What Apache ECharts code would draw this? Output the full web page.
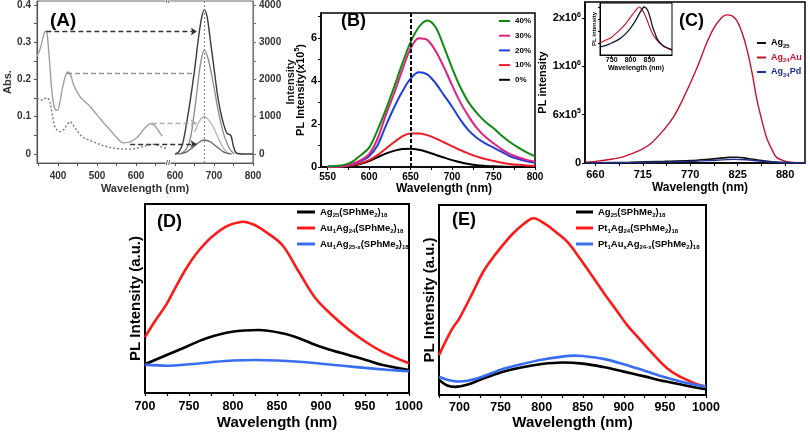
<!DOCTYPE html>
<html><head><meta charset="utf-8">
<script src="https://cdn.jsdelivr.net/npm/echarts@6/dist/echarts.min.js"></script>
<style>html,body{margin:0;padding:0;background:#fff}#c{width:810px;height:433px}</style>
</head><body><div id="c"></div>
<script>
// ================= DATA =================
// ---- Panel A : absorbance (left part, wavelength nm) ----
const absSolidWl  = [346,355,362,368,372,378,385,392,398,405,412,420,427,433,440,456,478,500,520,533,550,567,580,601,615,626,637,645,652,660,667];
const absSolidVal = [0.262,0.285,0.315,0.33,0.322,0.25,0.16,0.12,0.117,0.14,0.18,0.212,0.22,0.21,0.185,0.154,0.132,0.105,0.08,0.065,0.045,0.03,0.031,0.043,0.06,0.073,0.081,0.079,0.07,0.058,0.048];
const absDotWl  = [346,355,362,367,371,379,386,392,398,405,414,423,431,437,444,452,461,480,499,520,550,584,619,645,662,677];
const absDotVal = [0.15,0.146,0.145,0.15,0.151,0.14,0.1,0.073,0.064,0.06,0.065,0.078,0.087,0.08,0.069,0.058,0.047,0.037,0.029,0.021,0.015,0.013,0.02,0.026,0.02,0.015];
// ---- Panel A : emission (right part, wavelength nm, intensity) ----
const emDarkWl  = [600,610,620,630,640,650,660,668,675,682,690,700,711,722,733,743,750,758,775,800];
const emDarkVal = [0,60,300,850,1500,2250,3100,3650,3870,3700,3100,2300,1450,900,560,500,200,20,0,0];
const emMidWl   = [615,630,640,648,656,665,675,685,698,711,724,735,742,752];
const emMidVal  = [0,150,450,1000,1650,2400,2790,2550,1900,1150,560,250,110,0];
const emLightWl  = [651,660,668,675,685,698,711,724,735,742];
const emLightVal = [590,830,960,1000,930,730,420,160,30,0];
const emLowWl  = [600,615,630,647,660,675,690,698,711,724,735,745];
const emLowVal = [0,10,55,190,300,375,330,270,160,55,15,0];
// arrows: from absorbance peak (left wl, abs) to emission side (right wl)
const arrowFromWl = [370, 423, 640, 585];
const arrowAbs    = [0.329, 0.218, 0.083, 0.027];
const arrowToWl   = [656, 652, 655, 655];
const emPeakWlA = 675;
const aLeftTicks  = [0, 0.1, 0.2, 0.3, 0.4];
const aRightTicks = [0, 1000, 2000, 3000, 4000];
const aLeftWlTicks  = [400, 500, 600];
const aRightWlTicks = [600, 700, 800];

// ---- Panel B ----
const bWl = [550,560,570,580,590,600,610,620,630,640,650,660,670,680,690,700,710,720,730,740,750,760,770,780,790,800];
const b40 = [0.03,0.05,0.1,0.25,0.55,0.9,1.7,2.65,3.7,4.8,5.8,6.5,6.8,6.5,5.6,4.6,3.7,3.0,2.5,2.1,1.8,1.45,1.15,0.9,0.68,0.5];
const b30 = [0,0.02,0.05,0.15,0.32,0.6,1.3,2.4,3.4,4.5,5.5,5.98,5.9,5.4,4.65,3.8,3.0,2.35,1.8,1.4,1.1,0.82,0.6,0.45,0.33,0.25];
const b20 = [0,0.02,0.05,0.12,0.28,0.5,1.0,1.9,2.75,3.5,4.1,4.4,4.3,3.9,3.35,2.8,2.2,1.7,1.35,1.1,0.9,0.7,0.5,0.37,0.27,0.2];
const b10 = [0,0.01,0.03,0.08,0.18,0.32,0.55,0.85,1.15,1.42,1.56,1.56,1.48,1.33,1.15,0.97,0.78,0.62,0.48,0.37,0.28,0.2,0.14,0.1,0.07,0.05];
const b0  = [0,0.01,0.02,0.06,0.15,0.28,0.45,0.62,0.75,0.84,0.85,0.8,0.7,0.57,0.44,0.32,0.22,0.14,0.08,0.05,0.03,0.02,0.01,0.01,0,0];
const bNames = ['40%','30%','20%','10%','0%'];
const bMarkWl = 650;
const bXTicks = [550,600,650,700,750,800];
const bYTicks = [0,2,4,6];

// ---- Panel C ----
const cRedWl  = [648,660,680,693,710,724,740,751,760,770,780,789,797,805,812,818,824,830,836,842,847,853,859,865,870,878,886,903];
const cRedVal = [0.01,0.02,0.05,0.08,0.15,0.24,0.42,0.58,0.76,0.99,1.24,1.49,1.67,1.79,1.84,1.83,1.77,1.62,1.40,1.10,0.80,0.53,0.30,0.16,0.07,0.03,0.01,0].map(v=>v*1e6);
const cBlkWl  = [648,660,700,740,770,790,805,815,824,835,850,865,880,903];
const cBlkVal = [0,0.003,0.01,0.02,0.03,0.045,0.06,0.07,0.072,0.06,0.035,0.015,0.005,0].map(v=>v*1e6);
const cBluWl  = [648,700,770,800,820,835,850,870,903];
const cBluVal = [0,0.005,0.02,0.035,0.045,0.04,0.025,0.01,0].map(v=>v*1e6);
const cXTicks = [660,715,770,825,880];
const cYTickVals = [0, 6e5, 1.2e6, 1.8e6];
const cYTickLabels = ['0','6x10^5','1x10^6','2x10^6'];
// inset
const insRedWl  = [719,735,750,763,775,788,800,810,817,823,831,840,850,858,871,885,898,910];
const insRedVal = [0.25,0.31,0.37,0.46,0.55,0.66,0.79,0.89,0.96,1.0,0.94,0.8,0.6,0.45,0.3,0.2,0.15,0.12];
const insBlkWl  = [719,735,750,763,775,788,800,812,822,830,836,842,847,853,858,865,871,885,898,910];
const insBlkVal = [0.17,0.2,0.25,0.3,0.36,0.45,0.56,0.7,0.84,0.95,1.0,0.97,0.9,0.75,0.6,0.45,0.33,0.2,0.14,0.1];
const insXTicks = [750,800,850];

// ---- Panel D ----
const dRedWl  = [700,712,724,736,747,758,770,781,792,800,811,824,837,856,875,894,913,932,951,970,1000];
const dRedVal = [29.6,38.5,46.6,57,66,73.5,80,84.5,88,89.5,90.6,89,85.3,78.3,64,50,41,33.3,27,21.8,15.7];
const dBlkWl  = [700,724,747,770,799,829,856,875,894,913,932,951,970,1000];
const dBlkVal = [15.2,20,24.5,29,32.4,33.3,31.6,29,25.4,22.5,20,17.5,14.8,12.2];
const dBluWl  = [700,725,750,775,800,825,850,875,900,925,950,975,1000];
const dBluVal = [15,14.4,15.2,16.3,17.2,17.5,17.2,16.5,15.5,14.4,13.3,12.3,11.5];
const dXTicks = [700,750,800,850,900,950,1000];

// ---- Panel E ----
const eRedWl  = [675,690,700,715,729,741,753,765,778,790,806,818,831,843,855,868,880,892,904,917,929,941,953,965,977,990,1000];
const eRedVal = [21,34,40.5,53,65,72.5,79,85,90,93,89.5,85.5,80.7,74,66.7,58.5,51,44,36.8,30.5,24.6,19,14,10.5,7.9,5.5,4.4];
const eBlkWl  = [675,685,695,710,725,750,775,800,825,850,875,900,925,950,975,1000];
const eBlkVal = [8,5,4.3,5.5,8,11.9,14.5,16.3,17.1,16.5,14.7,12.3,9.8,7.2,5,3];
const eBluWl  = [675,685,698,710,725,750,775,800,825,840,850,875,900,925,950,975,1000];
const eBluVal = [9.6,8,7.1,7.5,9.2,13.3,16.2,18.6,20.2,20.7,20.5,19,16.2,12.8,9.3,6.5,4.4];
const eXTicks = [700,750,800,850,900,950,1000];

const nAg25   = 'Ag_{25}(SPhMe_{2})_{18}';
const nAuAg24 = 'Au_{1}Ag_{24}(SPhMe_{2})_{18}';
const nAuAg25x= 'Au_{1}Ag_{25-x}(SPhMe_{2})_{18}';
const nPtAg24 = 'Pt_{1}Ag_{24}(SPhMe_{2})_{18}';
const nPtAu   = 'Pt_{1}Au_{x}Ag_{24-x}(SPhMe_{2})_{18}';

// ================= LAYOUT / STYLE =================
const FONT = '"Liberation Sans", Arial, sans-serif';
const rightOffset = 100;   // broken-axis offset for panel A right part
const breakU = 682;
const pairs = (xs, ys, off) => xs.map((x, i) => [x + (off || 0), ys[i]]);
const toRich = s => s.replace(/_\{([^}]*)\}/g, '{sub|$1}').replace(/\^\{?([0-9]+)\}?/g, '{sup|$1}');
const plain = v => String(v);
function richSet(sz) {
  return {
    sub: {fontSize: sz, lineHeight: sz + 1, verticalAlign: 'bottom', fontWeight: 'bold', fontFamily: FONT},
    sup: {fontSize: sz, lineHeight: sz + 1, verticalAlign: 'top', fontWeight: 'bold', fontFamily: FONT}
  };
}
function ts(size, color, extra) {
  return Object.assign({fontFamily: FONT, fontWeight: 'bold', fontSize: size, color: color || '#000'}, extra || {});
}
function line(name, xi, yi, data, color, width, extra) {
  return Object.assign({
    type: 'line', name, xAxisIndex: xi, yAxisIndex: yi, data,
    showSymbol: false, symbol: 'none', smooth: 0.35,
    lineStyle: {color, width}, itemStyle: {color}, z: 3
  }, extra || {});
}
function steps(a, b, s) { const r = []; for (let v = a; v <= b + 1e-9; v += s) r.push(+v.toFixed(4)); return r; }

const arrowStyle = [
  {color: '#333', head: true},
  {color: '#999', head: false},
  {color: '#aaa', head: true},
  {color: '#333', head: true}
];
const arrowLines = arrowFromWl.map((w, i) => [
  {coord: [w, arrowAbs[i]], symbol: 'none', lineStyle: {color: arrowStyle[i].color, type: [5, 3], width: 1.3}},
  {coord: [arrowToWl[i] + rightOffset, arrowAbs[i]], symbol: arrowStyle[i].head ? 'arrow' : 'none'}
]);

const aEmColors = ['#3a3a3a', '#8a8a8a', '#b4b4b4', '#666'];
const bColors = ['#0f8a12', '#e0217d', '#1f3fe0', '#ee1c25', '#000'];

const option = {
  animation: false,
  backgroundColor: '#fff',
  textStyle: {fontFamily: FONT},
  title: [
    {text: '(A)', left: 45, top: 6, textStyle: ts(19)},
    {text: '(B)', left: 336, top: 7, textStyle: ts(18)},
    {text: '(C)', left: 674, top: 7, textStyle: ts(18)},
    {text: '(D)', left: 152, top: 208, textStyle: ts(18)},
    {text: '(E)', left: 447, top: 206, textStyle: ts(18)}
  ],
  grid: [
    {left: 37, top: 1, width: 216, height: 162, show: true, borderColor: '#666', borderWidth: 1},
    {left: 321, top: 13, width: 214, height: 154, show: true, borderColor: '#000', borderWidth: 1.5},
    {left: 585, top: 2, width: 220, height: 161, show: true, borderColor: '#000', borderWidth: 1.5},
    {left: 600, top: 3, width: 72, height: 52, show: true, borderColor: '#000', borderWidth: 1, backgroundColor: '#fff'},
    {left: 145, top: 204, width: 264, height: 189, show: true, borderColor: '#000', borderWidth: 2},
    {left: 439, top: 205, width: 267, height: 190, show: true, borderColor: '#000', borderWidth: 2}
  ],
  xAxis: [
    { // A
      gridIndex: 0, type: 'value', min: 346, max: 900,
      axisLine: {show: true, onZero: false, lineStyle: {color: '#555', width: 1.2}},
      splitLine: {show: false},
      axisTick: {show: true, length: 3, customValues: [350,400,450,500,550,600,650,700,750,800,850,900], lineStyle: {color: '#555'}},
      axisLabel: {customValues: aLeftWlTicks.concat(aRightWlTicks.map(v => v + rightOffset)), formatter: v => String(v > breakU ? v - rightOffset : v), margin: 8, ...ts(10, '#333')},
      name: 'Wavelength (nm)', nameLocation: 'middle', nameGap: 20, nameTextStyle: ts(11, '#333')
    },
    { // B
      gridIndex: 1, type: 'value', min: 542, max: 800,
      axisLine: {show: true, onZero: false, lineStyle: {color: '#000', width: 1.5}},
      splitLine: {show: false},
      axisTick: {show: true, length: 3, customValues: steps(550, 800, 25), lineStyle: {color: '#000'}},
      axisLabel: {customValues: bXTicks, formatter: plain, margin: 5, ...ts(10)},
      name: 'Wavelength (nm)', nameLocation: 'middle', nameGap: 13, nameTextStyle: ts(12, '#000', {padding: [0, 0, 0, 32]})
    },
    { // C
      gridIndex: 2, type: 'value', min: 648, max: 903,
      axisLine: {show: true, onZero: false, lineStyle: {color: '#000', width: 1.5}},
      splitLine: {show: false},
      axisTick: {show: true, length: 3, customValues: steps(660, 880, 27.5), lineStyle: {color: '#000'}},
      axisLabel: {customValues: cXTicks, formatter: plain, margin: 6, ...ts(11)},
      name: 'Wavelength (nm)', nameLocation: 'middle', nameGap: 19, nameTextStyle: ts(12, '#000', {padding: [0, 0, 0, 10]})
    },
    { // C inset
      gridIndex: 3, type: 'value', min: 719, max: 910,
      axisLine: {show: true, onZero: false, lineStyle: {color: '#000', width: 1}},
      splitLine: {show: false},
      axisTick: {show: true, length: 2, customValues: insXTicks, lineStyle: {color: '#000'}},
      axisLabel: {customValues: insXTicks, formatter: plain, margin: 2, ...ts(7)},
      name: 'Wavelength (nm)', nameLocation: 'middle', nameGap: 9, nameTextStyle: ts(7)
    },
    { // D
      gridIndex: 4, type: 'value', min: 700, max: 1000,
      axisLine: {show: true, onZero: false, lineStyle: {color: '#000', width: 2}},
      splitLine: {show: false},
      axisTick: {show: true, length: 3, customValues: steps(700, 1000, 25), lineStyle: {color: '#000', width: 1.2}},
      axisLabel: {customValues: dXTicks, formatter: plain, margin: 7, ...ts(12.5)},
      name: 'Wavelength (nm)', nameLocation: 'middle', nameGap: 22, nameTextStyle: ts(15)
    },
    { // E
      gridIndex: 5, type: 'value', min: 675, max: 1000,
      axisLine: {show: true, onZero: false, lineStyle: {color: '#000', width: 2}},
      splitLine: {show: false},
      axisTick: {show: true, length: 3, customValues: steps(675, 1000, 25), lineStyle: {color: '#000', width: 1.2}},
      axisLabel: {customValues: eXTicks, formatter: plain, margin: 6, ...ts(12.5)},
      name: 'Wavelength (nm)', nameLocation: 'middle', nameGap: 20, nameTextStyle: ts(15)
    }
  ],
  yAxis: [
    { // A left
      gridIndex: 0, type: 'value', min: -0.0242, max: 0.4107,
      axisLine: {show: true, lineStyle: {color: '#555', width: 1.2}},
      splitLine: {show: false},
      axisTick: {show: true, length: 3, customValues: steps(0, 0.4, 0.05), lineStyle: {color: '#555'}},
      axisLabel: {customValues: aLeftTicks, formatter: v => v === 0 ? '0' : v.toFixed(1), margin: 6, ...ts(10, '#333')},
      name: 'Abs.', nameLocation: 'middle', nameGap: 19, nameRotate: 90, nameTextStyle: ts(11, '#333')
    },
    { // A right
      gridIndex: 0, type: 'value', position: 'right', min: -242, max: 4107,
      axisLine: {show: true, lineStyle: {color: '#777', width: 1.2}},
      splitLine: {show: false},
      axisTick: {show: true, length: 3, customValues: steps(0, 4000, 500), lineStyle: {color: '#777'}},
      axisLabel: {customValues: aRightTicks, formatter: plain, margin: 6, ...ts(10, '#333')},
      name: 'Intensity', nameLocation: 'middle', nameGap: 30, nameRotate: 90, nameTextStyle: ts(11, '#222')
    },
    { // B
      gridIndex: 1, type: 'value', min: 0, max: 7.15,
      axisLine: {show: true, lineStyle: {color: '#000', width: 1.5}},
      splitLine: {show: false},
      axisTick: {show: true, length: 3, customValues: steps(0, 7, 1), lineStyle: {color: '#000'}},
      axisLabel: {customValues: bYTicks, formatter: plain, margin: 4, ...ts(11)},
      name: 'PL Intensity(x10{sup|5})', nameLocation: 'middle', nameGap: 13, nameRotate: 90,
      nameTextStyle: ts(11, '#000', {lineHeight: 13, rich: richSet(7)})
    },
    { // C
      gridIndex: 2, type: 'value', min: 0, max: 2.0e6,
      axisLine: {show: true, lineStyle: {color: '#000', width: 1.5}},
      splitLine: {show: false},
      axisTick: {show: true, length: 3, customValues: cYTickVals, lineStyle: {color: '#000'}},
      axisLabel: {
        customValues: cYTickVals,
        formatter: v => { const i = cYTickVals.findIndex(t => Math.abs(t - v) < 1); return i < 0 ? '' : toRich(cYTickLabels[i]); },
        margin: 4, ...ts(11, '#000', {lineHeight: 14, rich: richSet(7)})
      },
      name: 'PL intensity', nameLocation: 'middle', nameGap: 31, nameRotate: 90, nameTextStyle: ts(11)
    },
    { // C inset
      gridIndex: 3, type: 'value', min: 0, max: 1.083,
      axisLine: {show: true, lineStyle: {color: '#000', width: 1}},
      splitLine: {show: false},
      axisTick: {show: true, length: 2, customValues: [0.25, 0.5, 0.75, 1.0], lineStyle: {color: '#000'}},
      axisLabel: {show: false},
      name: 'PL intensity', nameLocation: 'middle', nameGap: 3, nameRotate: 90, nameTextStyle: ts(6)
    },
    { // D
      gridIndex: 4, type: 'value', min: 0, max: 100,
      axisLine: {show: true, lineStyle: {color: '#000', width: 2}},
      splitLine: {show: false}, axisTick: {show: false}, axisLabel: {show: false},
      name: 'PL Intensity (a.u.)', nameLocation: 'middle', nameGap: 2, nameRotate: 90, nameTextStyle: ts(15)
    },
    { // E
      gridIndex: 5, type: 'value', min: 0, max: 100,
      axisLine: {show: true, lineStyle: {color: '#000', width: 2}},
      splitLine: {show: false}, axisTick: {show: false}, axisLabel: {show: false},
      name: 'PL Intensity (a.u.)', nameLocation: 'middle', nameGap: 2, nameRotate: 90, nameTextStyle: ts(15)
    }
  ],
  legend: [
    { // B
      orient: 'vertical', left: 494, top: 11, itemWidth: 11, itemHeight: 2, itemGap: 4.7, icon: 'rect',
      data: bNames, textStyle: ts(8, '#000', {lineHeight: 10})
    },
    { // C
      orient: 'vertical', left: 752, top: 32, itemWidth: 9, itemHeight: 2, itemGap: 2.5, icon: 'rect',
      data: [
        {name: 'Ag_{25}', textStyle: {color: '#000'}},
        {name: 'Ag_{24}Au', textStyle: {color: '#c8102e'}},
        {name: 'Ag_{24}Pd', textStyle: {color: '#1f2f8f'}}
      ],
      formatter: n => toRich(n),
      textStyle: ts(9, '#000', {lineHeight: 12, rich: richSet(6)})
    },
    { // D
      orient: 'vertical', left: 292, top: 201, itemWidth: 18, itemHeight: 3, itemGap: 4, icon: 'rect',
      data: [nAg25, nAuAg24, nAuAg25x], formatter: n => toRich(n),
      textStyle: ts(9.5, '#000', {lineHeight: 12, rich: richSet(6)})
    },
    { // E
      orient: 'vertical', left: 571, top: 201, itemWidth: 17, itemHeight: 3, itemGap: 4, icon: 'rect',
      data: [nAg25, nPtAg24, nPtAu], formatter: n => toRich(n),
      textStyle: ts(9.5, '#000', {lineHeight: 12, rich: richSet(6)})
    }
  ],
  series: [
    // ---- A ----
    line('absSolid', 0, 0, pairs(absSolidWl, absSolidVal), '#a0a0a0', 1.4, {
      markLine: {silent: true, symbolSize: 6, label: {show: false}, data: arrowLines, animation: false},
      markPoint: {
        silent: true, symbol: 'rect', symbolSize: [5, 5], itemStyle: {color: '#fff'},
        label: {show: true, formatter: '//', position: 'inside', ...ts(8, '#555')},
        data: [{coord: [breakU, 0.4107]}, {coord: [breakU, -0.0242]}]
      }
    }),
    line('absDot', 0, 0, pairs(absDotWl, absDotVal), '#7a7a7a', 1.4, {lineStyle: {color: '#7a7a7a', width: 1.4, type: [2, 2]}}),
    line('emDark', 0, 1, pairs(emDarkWl, emDarkVal, rightOffset), aEmColors[0], 1.4, {
      markLine: {silent: true, symbol: 'none', label: {show: false}, lineStyle: {color: '#888', type: [2, 2], width: 1.2},
        data: [{xAxis: emPeakWlA + rightOffset}]}
    }),
    line('emMid', 0, 1, pairs(emMidWl, emMidVal, rightOffset), aEmColors[1], 1.3),
    line('emLight', 0, 1, pairs(emLightWl, emLightVal, rightOffset), aEmColors[2], 1.3),
    line('emLow', 0, 1, pairs(emLowWl, emLowVal, rightOffset), aEmColors[3], 1.3),
    // ---- B ----
    line('0%', 1, 2, pairs(bWl, b0), bColors[4], 2, {
      markLine: {silent: true, symbol: 'none', label: {show: false}, lineStyle: {color: '#000', type: [4, 2], width: 2},
        data: [{xAxis: bMarkWl}]}
    }),
    line('10%', 1, 2, pairs(bWl, b10), bColors[3], 2),
    line('20%', 1, 2, pairs(bWl, b20), bColors[2], 2),
    line('30%', 1, 2, pairs(bWl, b30), bColors[1], 2),
    line('40%', 1, 2, pairs(bWl, b40), bColors[0], 2),
    // ---- C ----
    line('Ag_{24}Au', 2, 3, pairs(cRedWl, cRedVal), '#c8102e', 1.4),
    line('Ag_{25}', 2, 3, pairs(cBlkWl, cBlkVal), '#111', 1.6),
    line('Ag_{24}Pd', 2, 3, pairs(cBluWl, cBluVal), '#1f2f8f', 1.4),
    line('insRed', 3, 4, pairs(insRedWl, insRedVal), '#c8102e', 1.1, {z: 10}),
    line('insBlk', 3, 4, pairs(insBlkWl, insBlkVal), '#15153a', 1.3, {z: 10}),
    // ---- D ----
    line(nAuAg24, 4, 5, pairs(dRedWl, dRedVal), '#ff1a1a', 2.6),
    line(nAg25, 4, 5, pairs(dBlkWl, dBlkVal), '#000', 2.6),
    line(nAuAg25x, 4, 5, pairs(dBluWl, dBluVal), '#3a6ef0', 2.6),
    // ---- E ----
    line(nPtAg24 , 5, 6, pairs(eRedWl, eRedVal), '#ff1a1a', 2.6),
    line(nAg25, 5, 6, pairs(eBlkWl, eBlkVal), '#000', 2.6),
    line(nPtAu, 5, 6, pairs(eBluWl, eBluVal), '#3a6ef0', 2.6)
  ]
};
const chart = echarts.init(document.getElementById('c'), null, {renderer: 'canvas'});
chart.setOption(option);
</script>
</body></html>
